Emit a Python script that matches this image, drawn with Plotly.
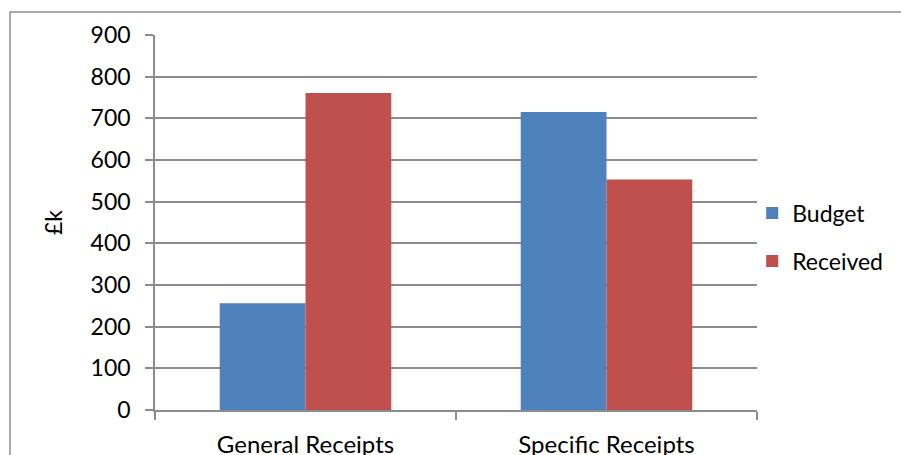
import plotly.graph_objects as go

categories = ["General Receipts", "Specific Receipts"]
budget = [256, 715]
received = [761, 553]
y_ticks = [0, 100, 200, 300, 400, 500, 600, 700, 800, 900]

FONT = "Lato"
FS = 23
GRID = "#8c8c8c"

fig = go.Figure()
fig.add_trace(go.Bar(name="Budget", x=categories, y=budget, marker_color="#4F81BD",
                     marker_line_width=0, legend="legend"))
fig.add_trace(go.Bar(name="Received", x=categories, y=received, marker_color="#C0504D",
                     marker_line_width=0, legend="legend2"))

legend_common = dict(font=dict(family=FONT, size=FS, color="#000000"), bgcolor="rgba(0,0,0,0)",
                     xanchor="left", yanchor="middle", itemwidth=30, visible=True)

fig.update_layout(
    width=901, height=455,
    margin=dict(l=155, r=144, t=35, b=45, autoexpand=False),
    paper_bgcolor="white", plot_bgcolor="white",
    font=dict(family=FONT, size=FS, color="#000000"),
    showlegend=True,
    bargap=0.43, bargroupgap=0,
    barmode="group",
    legend=dict(x=0.992, y=(213 - 410) / -375, **legend_common),
    legend2=dict(x=0.992, y=(261 - 410) / -375, **legend_common),
    xaxis=dict(showline=True, linecolor=GRID, linewidth=1.5, ticks="outside", tickson="boundaries",
               ticklen=8, tickcolor=GRID, tickwidth=1.5, showgrid=False,
               ticklabelstandoff=12, automargin=False,
               tickfont=dict(family=FONT, size=24)),
    yaxis=dict(range=[0, 900], tickvals=y_ticks, showline=True, linecolor=GRID, linewidth=1.5,
               ticks="outside", ticklen=8, tickcolor=GRID, tickwidth=1.5,
               showgrid=True, gridcolor=GRID, gridwidth=1.5, zeroline=False,
               ticklabelstandoff=10, automargin=False,
               tickfont=dict(family=FONT, size=FS),
               title=dict(text="£k", font=dict(family=FONT, size=FS), standoff=22)),
    shapes=[dict(type="rect", xref="paper", yref="paper",
                 x0=(10 - 155) / 602, x1=(905 - 155) / 602,
                 y0=(410 - 470) / 375, y1=1 + (35 - 12) / 375,
                 line=dict(color="#8c8c8c", width=1.5), fillcolor="rgba(0,0,0,0)", layer="below")],
)

fig.write_html("out.html")
